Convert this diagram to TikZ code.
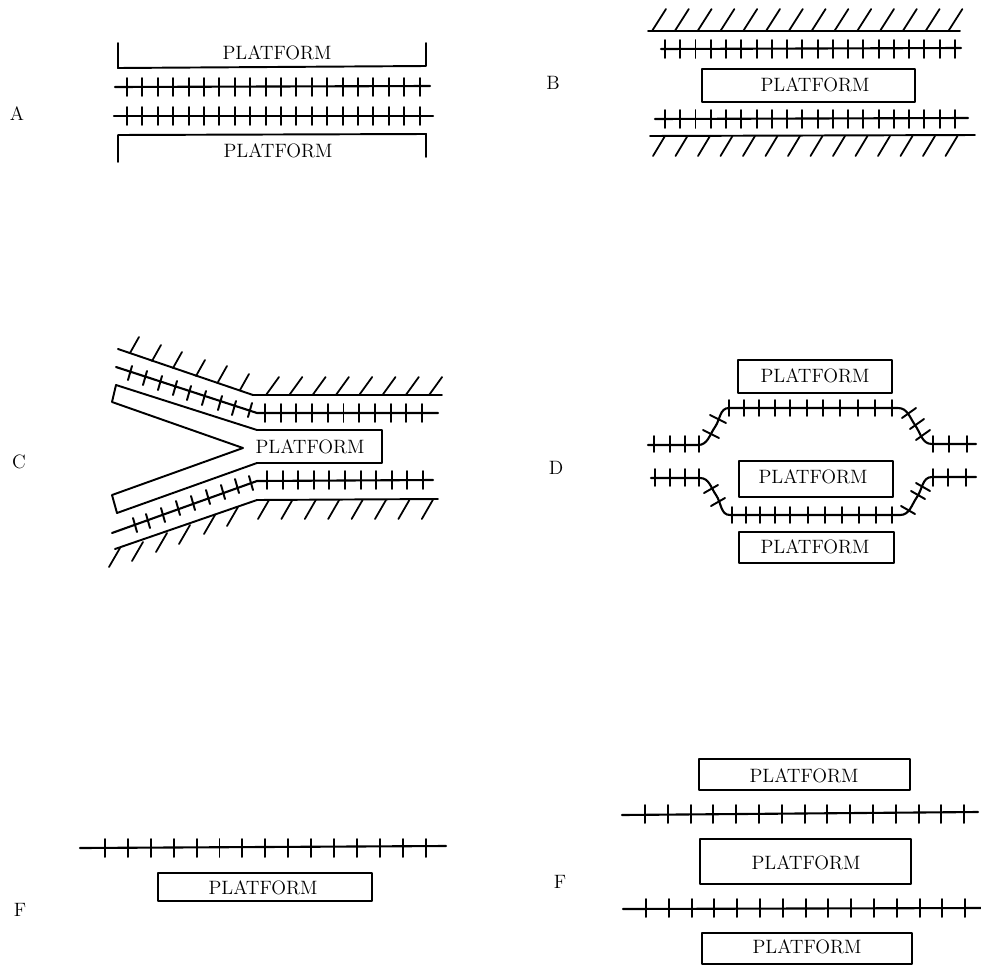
\documentclass[tikz,border=0pt]{standalone}
\usepackage{tikz}

\tikzset{
  rail/.style={line width=1.2pt},
  railtie/.style={line width=1.1pt},
  wall/.style={line width=1.1pt},
  hatch/.style={line width=1pt},
  platformbox/.style={line width=1.1pt},
  platformtext/.style={font=\fontsize{11}{13}\selectfont, inner sep=0pt},
  panelname/.style={font=\fontsize{11}{13}\selectfont, inner sep=0pt}
}
% row of ties on a straight piece of track: y, first x, step, last index
\newcommand{\tierow}[4]{
  \foreach \i in {0,...,#4} {
    \draw[railtie] ({#2+\i*#3},#1-9) -- ({#2+\i*#3},#1+9);
  }
}
% row of hatch strokes along a wall: y, first x, step, last index, dx, dy
\newcommand{\hatchrow}[6]{
  \foreach \i in {0,...,#4} {
    \draw[hatch] ({#2+\i*#3},#1) -- ++(#5,#6);
  }
}

\begin{document}
\begin{tikzpicture}[x=0.02cm, y=-0.02cm, line join=round, line cap=round]
  \useasboundingbox (0,0) rectangle (981,967);

% --- A ---
  \node[panelname] (nameA) at (17,114) {A};
  \draw[platformbox] (118,43) -- (118,68) -- (426,66) -- (426,43);
  \node[platformtext] (platA1) at (277,53) {PLATFORM};
  \draw[rail] (115,87) -- (430,86);
  \tierow{87}{127}{15.4}{19}
  \draw[rail] (114,116) -- (433,116);
  \tierow{116}{127}{15.4}{19}
  \draw[platformbox] (118,162) -- (118,135) -- (426,134) -- (426,157);
  \node[platformtext] (platA2) at (278,151) {PLATFORM};

% --- B ---
  \node[panelname] (nameB) at (553,83) {B};
  \draw[wall] (648,31) -- (960,31);
  \hatchrow{31}{652}{22.8}{13}{14}{-22}
  \draw[rail] (661,49) -- (961,48);
  \tierow{49}{665}{15.26}{19}
  \draw[platformbox] (702,69) rectangle (915,102);
  \node[platformtext] (platB) at (815,85) {PLATFORM};
  \draw[rail] (655,119) -- (968,118);
  \tierow{119}{665}{15.26}{19}
  \draw[wall] (650,136) -- (975,135);
  \hatchrow{136}{665}{22.5}{13}{-12}{20}

% --- C ---
  \node[panelname] (nameC) at (19,462) {C};
  % upper wall
  \draw[wall] (118,349) -- (253,395) -- (442,395);
  \hatchrow{395}{266}{23.3}{7}{13}{-18}
  \foreach \x/\y in {130/353, 152/361, 173/368, 196/376, 218/382, 240/390} {
    \draw[hatch] (\x,\y) -- ++(9,-16);
  }
  % upper track
  \draw[rail] (116,367) -- (257,413) -- (438,413);
  \tierow{413}{265}{15.7}{10}
  \foreach \x/\y in {130/373, 145/378, 160/383, 175/388, 189/393, 204/398, 220/403, 234/408, 250/410} {
    \draw[railtie] (\x+2,\y-7) -- (\x-2,\y+7);
  }
  % the forked platform
  \draw[platformbox] (116,385) -- (257,430) -- (382,430) -- (382,463) -- (257,463)
    -- (117,513) -- (112,495) -- (243,448) -- (112,402) -- cycle;
  \node[platformtext] (platC) at (310,447) {PLATFORM};
  % lower track
  \draw[rail] (112,533) -- (257,481) -- (433,480);
  \tierow{480}{267}{15.6}{10}
  \foreach \x/\y in {135/525, 148/521, 163/515, 178/508, 193/503, 208/497, 223/492, 237/486, 251/483} {
    \draw[railtie] (\x-2,\y-7) -- (\x+2,\y+7);
  }
  % lower wall
  \draw[wall] (115,549) -- (257,500) -- (438,499);
  \hatchrow{500}{269}{23.4}{7}{-11}{19}
  \foreach \x/\y in {120/548, 143/542, 167/533, 190/525, 215/515, 238/507} {
    \draw[hatch] (\x,\y) -- ++(-11,19);
  }

% --- D ---
  \node[panelname] (nameD) at (556,468) {D};
  \draw[platformbox] (738,360) rectangle (892,393);
  \node[platformtext] (platD1) at (815,376) {PLATFORM};
  \draw[platformbox] (739,461) rectangle (893,497);
  \node[platformtext] (platD2) at (813,477) {PLATFORM};
  \draw[platformbox] (739,532) rectangle (894,563);
  \node[platformtext] (platD3) at (815,547) {PLATFORM};
  % upper track
  \draw[rail] (648,445) -- (698,445) to[out=0, in=-125] (715,427)
    to[out=55, in=180] (729,408) -- (898,408) to[out=0, in=125] (915,425)
    to[out=-55, in=180] (932,444) -- (976,444);
  \foreach \x in {654,670,685,699,933,949,967} {
    \draw[railtie] (\x,436) -- (\x,452);
  }
  \foreach \x in {729,744,759,775,790,807,823,840,858,875,892} {
    \draw[railtie] (\x,400) -- (\x,416);
  }
  \foreach \x/\y in {711/434, 718/419} {
    \draw[railtie] (\x-8,\y-4) -- (\x+8,\y+4);
  }
  \foreach \x/\y in {909/413, 917/424, 923/435} {
    \draw[railtie] (\x-7,\y+5) -- (\x+7,\y-5);
  }
  % lower track
  \draw[rail] (651,478) -- (700,478) to[out=0, in=125] (716,495)
    to[out=-55, in=180] (730,515) -- (900,515) to[out=0, in=-125] (917,497)
    to[out=55, in=180] (932,477) -- (976,477);
  \foreach \x in {655,670,685,699,933,948,966} {
    \draw[railtie] (\x,469) -- (\x,486);
  }
  \foreach \x in {732,746,760,775,790,808,825,842,859,876,892} {
    \draw[railtie] (\x,507) -- (\x,523);
  }
  \foreach \x/\y in {711/489, 718/502} {
    \draw[railtie] (\x-7,\y+4) -- (\x+7,\y-4);
  }
  \foreach \x/\y in {908/510, 918/495, 923/487} {
    \draw[railtie] (\x-7,\y-4) -- (\x+7,\y+4);
  }

% --- F, left ---
  \node[panelname] (nameF1) at (20,910) {F};
  \draw[rail] (80,848) -- (446,846);
  \tierow{848}{105}{22.9}{14}
  \draw[platformbox] (158,873) rectangle (372,901);
  \node[platformtext] (platF) at (263,888) {PLATFORM};

% --- F, right ---
  \node[panelname] (nameF2) at (560,882) {F};
  \draw[platformbox] (699,759) rectangle (910,790);
  \node[platformtext] (platE1) at (804,776) {PLATFORM};
  \draw[rail] (622,815) -- (978,812);
  \tierow{814}{645}{22.8}{14}
  \draw[platformbox] (700,839) rectangle (911,884);
  \node[platformtext] (platE2) at (806,863) {PLATFORM};
  \draw[rail] (623,909) -- (981,908);
  \tierow{908}{646}{22.8}{14}
  \draw[platformbox] (702,933) rectangle (912,964);
  \node[platformtext] (platE3) at (807,947) {PLATFORM};
\end{tikzpicture}
\end{document}
